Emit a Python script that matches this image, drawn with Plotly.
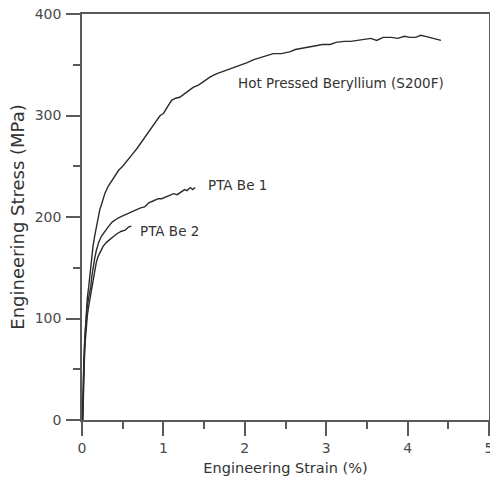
import plotly.graph_objects as go

# Hot Pressed Beryllium (S200F)
hp_strain = [0.005, 0.01, 0.02, 0.035, 0.05, 0.065, 0.082, 0.095, 0.107, 0.12, 0.135, 0.155,
             0.176, 0.195, 0.218, 0.25, 0.28, 0.32, 0.36, 0.40, 0.45, 0.50, 0.566, 0.62, 0.68,
             0.75, 0.80, 0.86, 0.92, 0.96, 1.00, 1.05, 1.10, 1.15, 1.20, 1.27, 1.33, 1.37, 1.43,
             1.50, 1.576, 1.65, 1.72, 1.80, 1.85, 1.905, 1.96, 2.03, 2.11, 2.20, 2.28, 2.35, 2.45,
             2.56, 2.62, 2.70, 2.78, 2.89, 2.95, 3.05, 3.12, 3.22, 3.30, 3.40, 3.47, 3.55, 3.62,
             3.70, 3.80, 3.88, 3.96, 4.03, 4.10, 4.16, 4.22, 4.30, 4.37, 4.41]
hp_stress = [0, 20, 50, 80, 105, 120, 131, 142, 151, 161, 171, 181,
             190, 198, 207, 215, 223, 230, 235, 240, 246, 250, 256, 262, 268,
             276, 281, 288, 295, 300, 302, 309, 315, 317, 318, 322, 326, 328, 330,
             334, 338, 341, 343, 345, 347, 348, 350, 352, 355, 357, 359, 361, 361,
             363, 365, 366, 367, 369, 370, 370, 372, 373, 373, 374, 375, 376, 374,
             377, 377, 376, 378, 377, 377, 379, 378, 376, 375, 374]

# PTA Be 1
pta1_strain = [0.008, 0.012, 0.018, 0.025, 0.035, 0.048, 0.062, 0.078, 0.092, 0.107, 0.12, 0.135,
               0.155, 0.176, 0.205, 0.238, 0.28, 0.32, 0.37, 0.443, 0.50, 0.55, 0.61, 0.66, 0.72,
               0.77, 0.82, 0.88, 0.936, 0.98, 1.03, 1.08, 1.124, 1.17, 1.22, 1.26, 1.29, 1.33,
               1.36, 1.39]
pta1_stress = [0, 20, 42, 62, 82, 98, 110, 119, 125, 131, 141, 151,
               159, 167, 175, 181, 186, 190, 195, 199, 201, 203, 205, 207, 209,
               210, 214, 216, 218, 218, 220, 222, 223, 222, 225, 227, 226, 229,
               227, 229]

# PTA Be 2
pta2_strain = [0.01, 0.015, 0.022, 0.03, 0.04, 0.052, 0.066, 0.08, 0.095, 0.11, 0.123, 0.14,
               0.156, 0.175, 0.197, 0.225, 0.259, 0.30, 0.36, 0.42, 0.484, 0.53, 0.57, 0.607]
pta2_stress = [0, 20, 40, 60, 78, 92, 103, 111, 118, 124, 131, 140,
               148, 155, 161, 166, 171, 175, 179, 183, 186, 187, 190, 191]

labels = ["Hot Pressed Beryllium (S200F)", "PTA Be 1", "PTA Be 2"]
label_x = [1.89, 1.52, 0.69]
label_y = [332, 232, 186]

FONT = "DejaVu Sans"
LINE = "#2b2b2b"
AX = "#5a5a5a"

fig = go.Figure()
for sx, sy, name in [(hp_strain, hp_stress, labels[0]),
                     (pta1_strain, pta1_stress, labels[1]),
                     (pta2_strain, pta2_stress, labels[2])]:
    fig.add_trace(go.Scatter(x=sx, y=sy, mode="lines", name=name,
                             line=dict(color=LINE, width=1.4), showlegend=False))

for t, ax_, ay_ in zip(labels, label_x, label_y):
    fig.add_annotation(x=ax_, y=ay_, xref="x", yref="y", text=t, showarrow=False,
                       xanchor="left", yanchor="middle",
                       font=dict(family=FONT, size=13.5, color="#333333"))

axis_common = dict(
    showline=True, linecolor=AX, linewidth=1.5, mirror=True,
    ticks="outside", ticklen=14, tickwidth=1.5, tickcolor=AX,
    showgrid=False, zeroline=False, automargin=False,
    ticklabeloverflow="allow",
    tickfont=dict(family=FONT, size=14, color="#4a4a4a"),
)

fig.update_xaxes(range=[0, 5], dtick=1, tick0=0,
                 minor=dict(ticks="outside", ticklen=7, tickwidth=1.5, tickcolor=AX, dtick=0.5, showgrid=False),
                 title=dict(text="Engineering Strain (%)", standoff=8,
                            font=dict(family=FONT, size=14.5, color="#333333")),
                 **axis_common)
fig.update_yaxes(range=[0, 400], dtick=100, tick0=0, ticklabelstandoff=2,
                 minor=dict(ticks="outside", ticklen=7, tickwidth=1.5, tickcolor=AX, dtick=50, showgrid=False),
                 title=dict(text="Engineering Stress (MPa)", standoff=5,
                            font=dict(family=FONT, size=18, color="#333333")),
                 **axis_common)

fig.update_layout(width=490, height=478,
                  margin=dict(l=82, r=1, t=14, b=58, pad=0),
                  plot_bgcolor="white", paper_bgcolor="white")

fig.write_html("out.html", config={"displayModeBar": False},
               post_script="document.body.style.margin='0px';")
